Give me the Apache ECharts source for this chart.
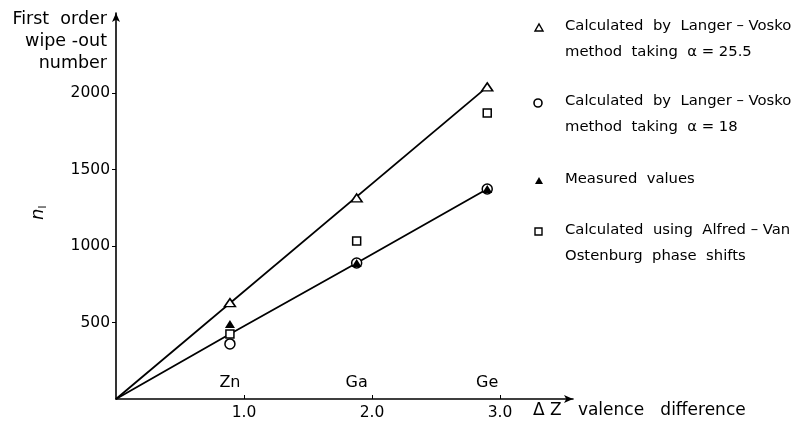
<!DOCTYPE html>
<html><head><meta charset="utf-8">
<script src="https://cdn.jsdelivr.net/npm/echarts@6/dist/echarts.min.js"></script>
<style>html,body{margin:0;padding:0;background:#fff}#c{width:811px;height:434px}</style>
</head><body><div id="c"></div>
<script>
// Data
const elements = ['Zn', 'Ga', 'Ge'];
const dz = [0.89, 1.88, 2.90];
const calc25 = [630, 1314, 2040];        // open triangles, alpha = 25.5
const calc18 = [360, 889, 1373];         // open circles, alpha = 18
const measured = [490, 889, 1373];       // filled triangles
const alfred = [425, 1033, 1870];        // open squares
const line25 = [[0, 0], [2.90, 2040]];
const line18 = [[0, 0], [0.89, 425], [1.88, 889], [2.90, 1373]];
const yTicks = [500, 1000, 1500, 2000];
const xTicks = [1, 2, 3];
const legendTexts = [
  ['Calculated  by  Langer – Vosko', 'method  taking  \u03b1 = 25.5'],
  ['Calculated  by  Langer – Vosko', 'method  taking  \u03b1 = 18'],
  ['Measured  values'],
  ['Calculated  using  Alfred – Van', 'Ostenburg  phase  shifts']
];

const FONT = 'DejaVu Sans';
const pts = (xs, ys) => xs.map((x, i) => [x, ys[i]]);
const chart = echarts.init(document.getElementById('c'));

const legendX = 565, markerX = 539;
const legendY = [28, 103, 181, 232];
const lineH = 25.5;
const graphics = [];
legendTexts.forEach((lines, i) => {
  lines.forEach((t, j) => {
    graphics.push({type: 'text', left: legendX, top: legendY[i] + j * lineH - 9,
      style: {text: t, font: '14.8px "' + FONT + '"', fill: '#000'}});
  });
});
// legend markers
const my = legendY;
graphics.push({type: 'polygon', shape: {points: [[markerX - 4, my[0] + 3], [markerX + 4, my[0] + 3], [markerX, my[0] - 4]]}, style: {fill: '#fff', stroke: '#000', lineWidth: 1.4}});
graphics.push({type: 'circle', shape: {cx: markerX - 1, cy: my[1], r: 4}, style: {fill: '#fff', stroke: '#000', lineWidth: 1.6}});
graphics.push({type: 'polygon', shape: {points: [[markerX - 4, my[2] + 3], [markerX + 4, my[2] + 3], [markerX, my[2] - 4]]}, style: {fill: '#000'}});
graphics.push({type: 'rect', shape: {x: markerX - 4, y: my[3] - 4, width: 7, height: 7}, style: {fill: '#fff', stroke: '#000', lineWidth: 1.4}});
// y axis title
['First  order', 'wipe -out', 'number'].forEach((t, i) => {
  graphics.push({type: 'text', right: 811 - 107, top: 10 + i * 22,
    style: {text: t, font: '17.5px "' + FONT + '"', fill: '#000', textAlign: 'right'}});
});
// n_I (rotated, reading upward)
graphics.push({type: 'text', x: 28, y: 220, rotation: Math.PI / 2,
  style: {text: '{n|n}{s|I}', rich: {n: {fontSize: 18, fontStyle: 'italic', fontFamily: FONT, fill: '#000'}, s: {fontSize: 10, fontFamily: FONT, fill: '#000', padding: [10, 0, 0, 0]}}}});
// x axis name
graphics.push({type: 'text', left: 533, top: 402,
  style: {text: '\u0394 Z   valence   difference', font: '17px "' + FONT + '"', fill: '#000'}});

chart.setOption({
  animation: false,
  backgroundColor: '#fff',
  grid: {left: 116, right: 238, top: 13, bottom: 35},
  xAxis: {
    type: 'value', min: 0, max: 3.57,
    axisLine: {show: true, symbol: ['none', 'arrow'], symbolSize: [6, 9], lineStyle: {color: '#000', width: 1.6}},
    axisTick: {show: true, customValues: xTicks, length: 4, inside: true, lineStyle: {color: '#000'}},
    axisLabel: {customValues: xTicks, formatter: v => v.toFixed(1), color: '#000', fontSize: 15.5, fontFamily: FONT, margin: 6},
    splitLine: {show: false}
  },
  yAxis: {
    type: 'value', min: 0, max: 2523,
    axisLine: {show: true, symbol: ['none', 'arrow'], symbolSize: [6, 9], lineStyle: {color: '#000', width: 1.6}},
    axisTick: {show: true, customValues: yTicks, length: 4, lineStyle: {color: '#000'}},
    axisLabel: {customValues: yTicks, formatter: v => String(v), color: '#000', fontSize: 15.5, fontFamily: FONT, margin: 6},
    splitLine: {show: false}
  },
  graphic: graphics,
  series: [
    {type: 'line', data: line25, symbol: 'none', lineStyle: {color: '#000', width: 1.8}, z: 2},
    {type: 'line', data: line18, symbol: 'none', lineStyle: {color: '#000', width: 1.8}, z: 2},
    {type: 'scatter', data: pts(dz, calc25), symbol: 'triangle', symbolSize: [11, 8],
      itemStyle: {color: '#fff', borderColor: '#000', borderWidth: 1.5, opacity: 1}, z: 3},
    {type: 'scatter', data: pts(dz, calc18), symbol: 'circle', symbolSize: 10,
      itemStyle: {color: '#fff', borderColor: '#000', borderWidth: 1.5, opacity: 1}, z: 3},
    {type: 'scatter', data: pts(dz, alfred), symbol: 'rect', symbolSize: 8,
      itemStyle: {color: '#fff', borderColor: '#000', borderWidth: 1.5, opacity: 1}, z: 3},
    {type: 'scatter', data: pts(dz, measured), symbol: 'triangle', symbolSize: [10, 8],
      itemStyle: {color: '#000', opacity: 1}, z: 4},
    {type: 'scatter', data: dz.map((x, i) => ({value: [x, 0], name: elements[i]})), symbolSize: 0,
      itemStyle: {opacity: 1},
      label: {show: true, position: 'top', distance: 8, formatter: p => p.name, color: '#000', opacity: 1, fontSize: 16, fontFamily: FONT}, z: 5}
  ]
});
</script></body></html>
